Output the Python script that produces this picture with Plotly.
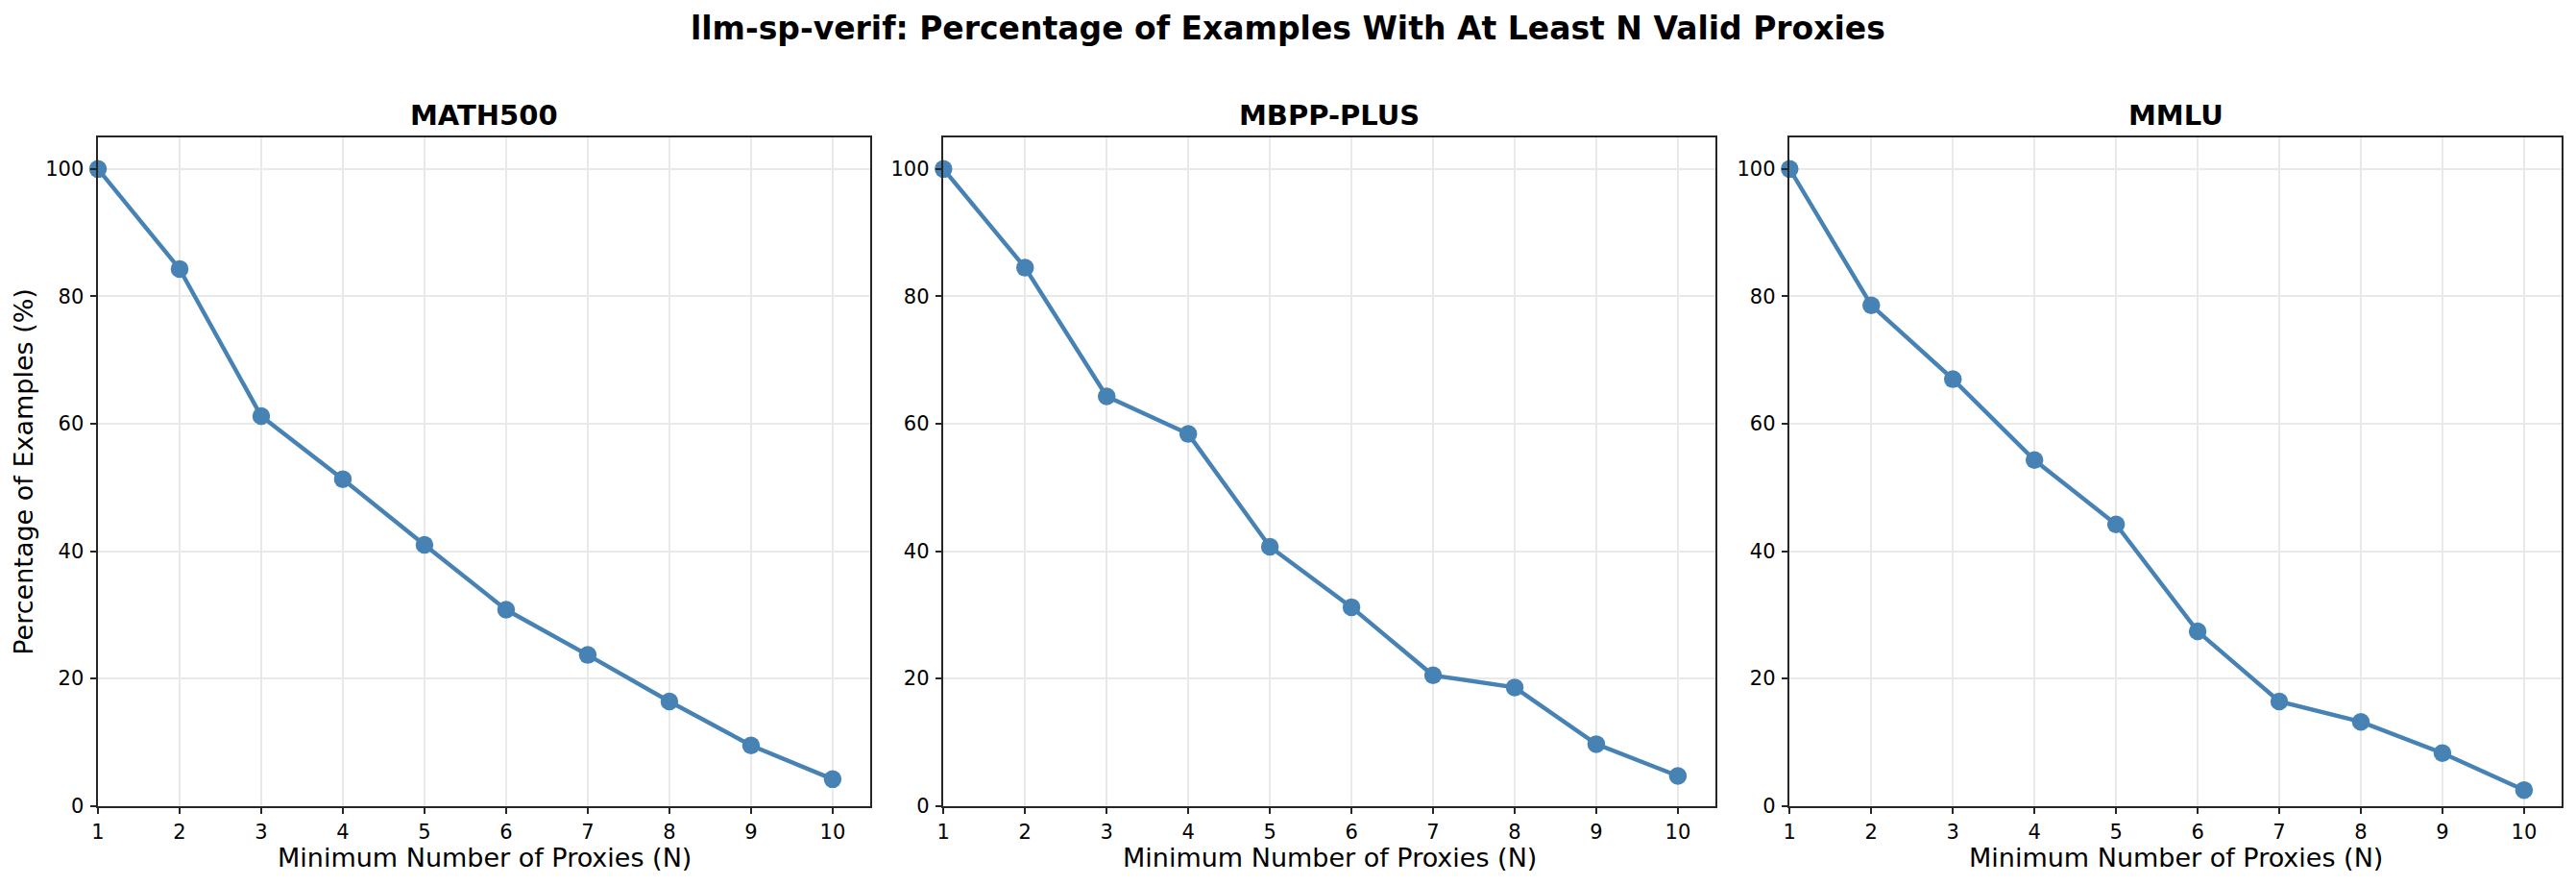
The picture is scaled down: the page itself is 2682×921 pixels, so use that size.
import plotly.graph_objects as go

N = [1, 2, 3, 4, 5, 6, 7, 8, 9, 10]
datasets = ["MATH500", "MBPP-PLUS", "MMLU"]
math500 = [100.0, 84.3, 61.2, 51.3, 41.0, 30.8, 23.7, 16.4, 9.5, 4.2]
mbpp_plus = [100.0, 84.5, 64.3, 58.4, 40.7, 31.2, 20.5, 18.6, 9.7, 4.7]
mmlu = [100.0, 78.6, 67.0, 54.3, 44.2, 27.4, 16.4, 13.2, 8.3, 2.5]
series = [math500, mbpp_plus, mmlu]
y_ticks = [0, 20, 40, 60, 80, 100]

W, H = 2682, 921
FONT = "DejaVu Sans"
COLOR = "#4682B4"

x_domains = [(102 / W, 906 / W), (982.3 / W, 1786 / W), (1863.3 / W, 2667 / W)]
y_domain = (1 - 838.7 / H, 1 - 142.7 / H)

fig = go.Figure()
layout = dict(
    template="none",
    width=W, height=H,
    margin=dict(l=0, r=0, t=0, b=0, pad=0),
    paper_bgcolor="white", plot_bgcolor="white",
    showlegend=False,
    font=dict(family=FONT, color="black", size=21),
)
annotations = []
for i, (name, vals) in enumerate(zip(datasets, series)):
    k = "" if i == 0 else str(i + 1)
    fig.add_trace(go.Scatter(
        x=N, y=vals, mode="lines+markers",
        line=dict(color=COLOR, width=4.4),
        marker=dict(color=COLOR, size=18.5),
        xaxis="x" + k, yaxis="y" + k, cliponaxis=False,
    ))
    axcommon = dict(
        showline=True, linecolor="#262626", linewidth=2, mirror=True,
        showgrid=True, gridcolor="#e9e9e9", gridwidth=1.7,
        ticks="outside", ticklen=6.5, tickwidth=1.7, tickcolor="#262626",
        tickfont=dict(family=FONT, size=21, color="black"),
        zeroline=False, automargin=False,
    )
    layout["xaxis" + k] = dict(
        axcommon, domain=list(x_domains[i]), range=[1, 10.46],
        tickmode="array", tickvals=N, ticktext=[str(n) for n in N],
        anchor="y" + k, ticklabelstandoff=1,
    )
    layout["yaxis" + k] = dict(
        axcommon, domain=list(y_domain), range=[0, 105],
        tickmode="array", tickvals=y_ticks, ticktext=[str(t) for t in y_ticks],
        anchor="x" + k, ticklabelstandoff=2,
    )
    xc = (x_domains[i][0] + x_domains[i][1]) / 2
    annotations.append(dict(
        text="<b>" + name + "</b>", x=xc, y=1 - 120 / H, xref="paper", yref="paper",
        xanchor="center", yanchor="middle", showarrow=False,
        font=dict(family=FONT, size=29, color="black"),
    ))
    annotations.append(dict(
        text="Minimum Number of Proxies (N)", x=xc, y=1 - 892 / H, xref="paper", yref="paper",
        xanchor="center", yanchor="middle", showarrow=False,
        font=dict(family=FONT, size=27, color="black"),
    ))

annotations.append(dict(
    text="Percentage of Examples (%)", x=25 / W, y=(y_domain[0] + y_domain[1]) / 2,
    xref="paper", yref="paper", xanchor="center", yanchor="middle",
    textangle=-90, showarrow=False,
    font=dict(family=FONT, size=27, color="black"),
))
annotations.append(dict(
    text="<b>llm-sp-verif: Percentage of Examples With At Least N Valid Proxies</b>",
    x=0.5, y=1 - 29 / H, xref="paper", yref="paper",
    xanchor="center", yanchor="middle", showarrow=False,
    font=dict(family=FONT, size=33, color="black"),
))
layout["annotations"] = annotations
fig.update_layout(**layout)
fig.write_html(
    "out.html",
    config={"displayModeBar": False},
    post_script="document.body.style.margin='0px';document.body.style.overflow='hidden';",
)
